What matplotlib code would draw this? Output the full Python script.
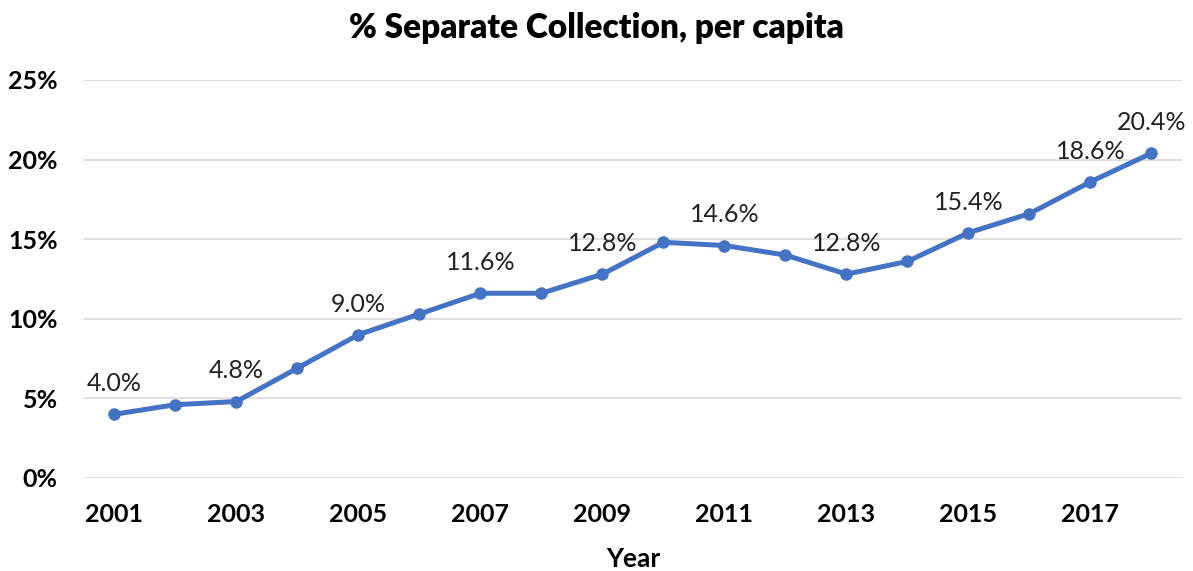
import matplotlib.pyplot as plt
from matplotlib.ticker import FuncFormatter

plt.rcParams['font.family'] = ['Lato', 'DejaVu Sans']

years = list(range(2001, 2019))
share = [4.0, 4.6, 4.8, 6.9, 9.0, 10.3, 11.6, 11.6, 12.8, 14.8,
         14.6, 14.0, 12.8, 13.6, 15.4, 16.6, 18.6, 20.4]
labelled_years = [2001, 2003, 2005, 2007, 2009, 2011, 2013, 2015, 2017, 2018]
label_text = ["4.0%", "4.8%", "9.0%", "11.6%", "12.8%", "14.6%",
              "12.8%", "15.4%", "18.6%", "20.4%"]
tick_years = list(range(2001, 2019, 2))
y_ticks = [0, 5, 10, 15, 20, 25]

fig = plt.figure(figsize=(11.93, 5.71), dpi=100)
ax = fig.add_axes([0.0704, 0.163, 0.9203, 0.697])

ax.plot(years, share, color="#4472C4", linewidth=3.6, marker="o", markersize=8)

for yr, txt in zip(labelled_years, label_text):
    v = share[years.index(yr)]
    ax.annotate(txt, (yr, v), xytext=(0, 22), textcoords="offset points",
                ha="center", va="center", fontsize=18, color="#222222")

ax.set_xlim(2000.5, 2018.5)
ax.set_ylim(0, 25)
ax.set_xticks(tick_years)
ax.set_yticks(y_ticks)
ax.yaxis.set_major_formatter(FuncFormatter(lambda v, p: "%d%%" % v))
ax.grid(axis="y", color="#D9D9D9", linewidth=1.2)
ax.set_axisbelow(True)
for s in ax.spines.values():
    s.set_visible(False)
ax.tick_params(length=0, labelsize=18)
for lab in ax.get_xticklabels() + ax.get_yticklabels():
    lab.set_fontweight("bold")
ax.tick_params(axis="x", pad=18)
ax.tick_params(axis="y", pad=19)

ax.set_xlabel("Year", fontsize=19, fontweight="bold", labelpad=15)
fig.suptitle("% Separate Collection, per capita", fontsize=24, fontweight="heavy",
             y=0.951, va="center")

fig.savefig("out.png", dpi=100)
